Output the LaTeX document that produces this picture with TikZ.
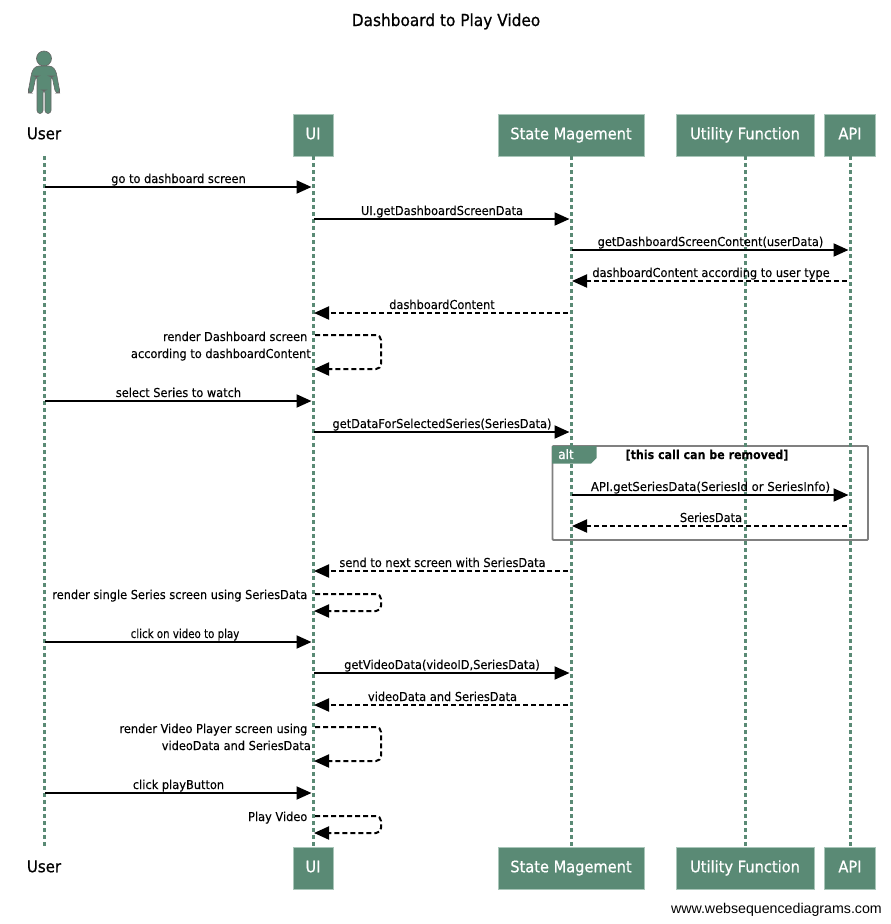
\documentclass[tikz,border=0pt]{standalone}
\usepackage{fontspec}
\setmainfont[FakeStretch=0.925,FakeBold=0.15,BoldFeatures={FakeStretch=0.9}]{DejaVu Sans}
\newfontfamily\footfont{Liberation Sans}
\newfontfamily\heavyfont[FakeStretch=0.925,FakeBold=0.7]{DejaVu Sans}
\usetikzlibrary{arrows.meta}
\definecolor{wsd}{HTML}{5A8A75}
\definecolor{wsdedge}{HTML}{A9C6B9}
\definecolor{framegray}{HTML}{808080}
\newcounter{msgno}
\tikzset{
  x=1pt,y=-1pt,
  head/.style={rectangle,fill=wsd,draw=wsdedge,line width=0.8pt,text=white,font=\heavyfont\fontsize{15.8}{18}\selectfont,inner sep=0pt,minimum height=42pt,text height=12pt,text depth=3.5pt},
  actorlabel/.style={rectangle,inner sep=0pt,minimum height=42pt,minimum width=40pt,font=\heavyfont\fontsize{16.2}{18}\selectfont,text height=12pt,text depth=3.5pt},
  lifeline/.style={wsd,line width=3pt,dash pattern=on 4pt off 3pt},
  msgsolid/.style={black,line width=2pt,-{Triangle[length=15pt,width=13pt]},shorten >=1.5pt,shorten <=1pt},
  msgdash/.style={black,line width=2pt,dash pattern=on 5pt off 3pt,-{Triangle[length=15pt,width=13pt]},shorten >=1pt,shorten <=3pt},
  lab/.style={font=\fontsize{12.3}{14}\selectfont,inner sep=0pt,anchor=base},
  labr/.style={font=\fontsize{12.3}{14}\selectfont,inner sep=0pt,anchor=base east},
}
\newcommand{\msg}[6]{% style, from, to, y, label centre x, label
  \stepcounter{msgno}%
  \draw[#1] (#2.south |- 0,#4) -- (#3.south |- 0,#4);
  \node[lab] (msg\themsgno) at (#5,#4-4) {#6};
}
\newcommand{\selfmsg}[3]{% from, y1, y2
  \draw[black,line width=2pt,dash pattern=on 5pt off 3pt,rounded corners=5pt,-{Triangle[length=15pt,width=13pt]},shorten >=1pt,shorten <=2pt]
    (#1.south |- 0,#2) -- ++(68,0) |- (#1.south |- 0,#3);
}
\begin{document}
\begin{tikzpicture}
\useasboundingbox (0,0) rectangle (891,924);
\node[font=\heavyfont\fontsize{16.6}{20}\selectfont,inner sep=0pt,anchor=base] (title) at (446,26) {Dashboard to Play Video};

% actor figure
\fill[wsd,draw=framegray!80!black,line width=0.6pt] (44,58.5) circle (7.5);
\path[fill=wsd,draw=framegray!80!black,line width=0.6pt,rounded corners=3pt]
  (36,66) -- (52,66) -- (56,71) -- (59.5,90) -- (59.5,93) -- (55.5,93) -- (52,76) -- (51,76)
  -- (51,113.5) -- (45,113.5) -- (45,90) -- (43,90) -- (43,113.5) -- (37,113.5) -- (37,76) -- (36,76)
  -- (32.5,93) -- (28.5,93) -- (28.5,90) -- (32,71) -- cycle;

% head nodes
\node[actorlabel] (Ut) at (44,135) {User};
\node[head,minimum width=40pt] (UIt) at (313,135) {UI};
\node[head,minimum width=146pt] (STt) at (571,135) {State Magement};
\node[head,minimum width=138pt] (UFt) at (745,135) {Utility Function};
\node[head,minimum width=51pt] (APt) at (850,135) {API};
\node[actorlabel] (Ub) at (44,868) {User};
\node[head,minimum width=40pt] (UIb) at (313,868) {UI};
\node[head,minimum width=146pt] (STb) at (571,868) {State Magement};
\node[head,minimum width=138pt] (UFb) at (745,868) {Utility Function};
\node[head,minimum width=51pt] (APb) at (850,868) {API};

% alt frame
\draw[framegray,line width=1.8pt,rounded corners=1pt] (552.5,446) rectangle (868,540);
\fill[wsd] (552,446) -- (596.5,446) -- (596.5,458) -- (591,463.5) -- (552,463.5) -- cycle;

% lifelines
\draw[lifeline] (Ut.south) -- (Ub.north);
\draw[lifeline] (UIt.south) -- (UIb.north);
\draw[lifeline] (STt.south) -- (STb.north);
\draw[lifeline] (UFt.south) -- (UFb.north);
\draw[lifeline] (APt.south) -- (APb.north);

% alt labels
\node[lab,text=white,font=\heavyfont\fontsize{13}{14}\selectfont] (alttext) at (566,459) {alt};
\node[lab,font=\fontsize{12.3}{14}\bfseries] (altcond) at (707,459) {[this call can be removed]};

% messages
\msg{msgsolid}{Ut}{UIt}{187}{178.5}{go to dashboard screen}
\msg{msgsolid}{UIt}{STt}{219}{442}{UI.getDashboardScreenData}
\msg{msgsolid}{STt}{APt}{250}{710.5}{getDashboardScreenContent(userData)}
\msg{msgdash}{APt}{STt}{281}{711}{dashboardContent according to user type}
\msg{msgdash}{STt}{UIt}{313}{442}{dashboardContent}
\selfmsg{UIt}{335}{369}
\node[labr] (r1a) at (307.5,341) {render Dashboard screen};
\node[labr] (r1b) at (311,358) {according to dashboardContent};
\msg{msgsolid}{Ut}{UIt}{401}{178.5}{select Series to watch}
\msg{msgsolid}{UIt}{STt}{432}{442}{getDataForSelectedSeries(SeriesData)}
\msg{msgsolid}{STt}{APt}{495}{710.5}{\scalebox{1.03}[1]{API.getSeriesData(SeriesId or SeriesInfo)}}
\msg{msgdash}{APt}{STt}{526}{711}{SeriesData}
\msg{msgdash}{STt}{UIt}{571}{442.5}{send to next screen with SeriesData}
\selfmsg{UIt}{594}{611}
\node[labr] (r2) at (307.5,599) {render single Series screen using SeriesData};
\msg{msgsolid}{Ut}{UIt}{642}{185}{\scalebox{0.9}[1]{click on video to play}}
\msg{msgsolid}{UIt}{STt}{673}{442}{getVideoData(videoID,SeriesData)}
\msg{msgdash}{STt}{UIt}{705}{442.5}{videoData and SeriesData}
\selfmsg{UIt}{727}{761}
\node[labr] (r3a) at (307.5,733) {render Video Player screen using};
\node[labr] (r3b) at (311,750) {videoData and SeriesData};
\msg{msgsolid}{Ut}{UIt}{793}{178.5}{click playButton}
\selfmsg{UIt}{816}{833}
\node[labr] (r4) at (307.5,821) {Play Video};

\node[font=\footfont\fontsize{14.2}{16}\selectfont,inner sep=0pt,anchor=base east] (foot) at (882,913) {www.websequencediagrams.com};
\end{tikzpicture}
\end{document}
